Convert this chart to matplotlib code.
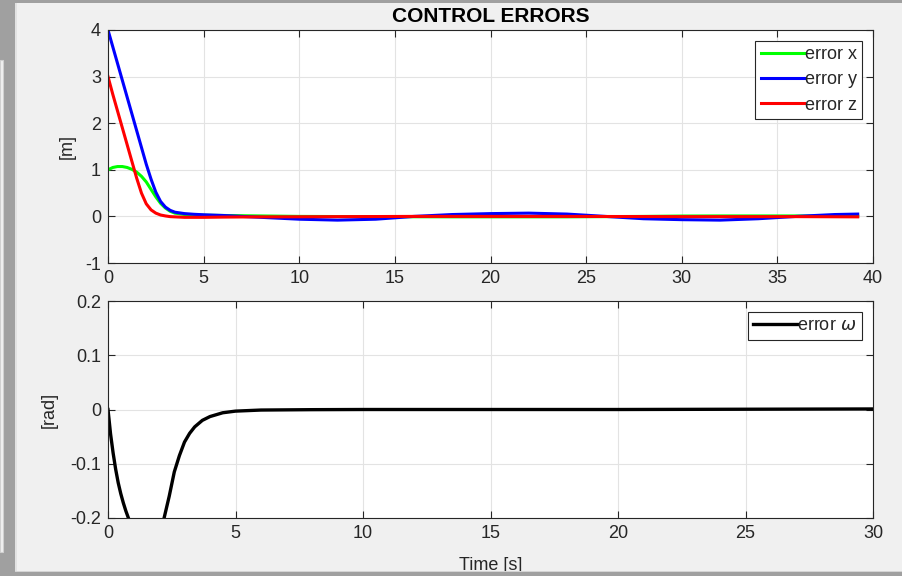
import numpy as np
import matplotlib
matplotlib.use("Agg")
import matplotlib.pyplot as plt
from matplotlib.patches import Rectangle

plt.rcParams["font.family"] = ["Liberation Sans", "DejaVu Sans"]
plt.rcParams["mathtext.fontset"] = "dejavusans"
plt.rcParams["axes.unicode_minus"] = False

# time samples for the position errors
t_pos = [0, 0.25, 0.5, 0.75, 1.0, 1.25, 1.5, 1.75, 2.0, 2.25, 2.5, 2.75,
         3.0, 3.25, 3.5, 4, 4.5, 5, 6, 7, 8, 10, 12, 14, 16, 18, 20, 22,
         24, 26, 28, 30, 32, 34, 36, 38, 39.2]

err_x = [1.0, 1.05, 1.07, 1.07, 1.05, 1.01, 0.95, 0.86, 0.74, 0.58, 0.42, 0.28,
         0.18, 0.11, 0.07, 0.04, 0.03, 0.025, 0.02, 0.015, 0.01, 0.0, -0.003, -0.005,
         -0.008, -0.01, -0.01, -0.01, -0.01, -0.005, 0.0, 0.008, 0.01, 0.01, 0.01, 0.005, 0.0]

err_y = [4.0, 3.64, 3.28, 2.92, 2.56, 2.2, 1.84, 1.48, 1.12, 0.8, 0.52, 0.32,
         0.2, 0.13, 0.09, 0.06, 0.045, 0.035, 0.02, 0.0, -0.02, -0.06, -0.08, -0.06,
         0.0, 0.04, 0.06, 0.07, 0.05, 0.0, -0.05, -0.07, -0.08, -0.05, 0.0, 0.04, 0.05]

err_z = [3.0, 2.62, 2.26, 1.9, 1.54, 1.18, 0.82, 0.5, 0.27, 0.14, 0.07, 0.03,
         0.01, -0.005, -0.01, -0.02, -0.02, -0.02, -0.015, -0.012, -0.01, -0.008, -0.005, -0.003,
         0.0, 0.0, 0.0, 0.0, 0.0, -0.002, -0.003, -0.005, -0.005, -0.005, -0.005, -0.008, -0.01]

# orientation error (bottom panel)
t_ang = [0, 0.1, 0.2, 0.3, 0.4, 0.5, 0.6, 0.7, 0.8, 0.9, 1.2, 1.6, 2.0,
         2.2, 2.4, 2.6, 2.8, 3.0, 3.2, 3.4, 3.7, 4.0, 4.5, 5, 6, 8, 10,
         15, 20, 25, 30]
err_w = [0, -0.045, -0.08, -0.11, -0.135, -0.155, -0.172, -0.187, -0.2, -0.212, -0.235, -0.25, -0.228,
         -0.2, -0.16, -0.115, -0.085, -0.06, -0.044, -0.032, -0.02, -0.013, -0.006, -0.003, -0.001, -0.0003, 0.0,
         0.0, 0.0, 0.0005, 0.001]

DARK = "#262626"
BG = "#f0f0f0"


def style_axes(ax):
    ax.set_facecolor("white")
    ax.grid(True, color="#e3e3e3", linewidth=0.8)
    ax.set_axisbelow(True)
    ax.tick_params(direction="in", top=True, right=True, length=5,
                   width=0.8, colors=DARK, labelsize=13, pad=5)
    for s in ax.spines.values():
        s.set_color(DARK)
        s.set_linewidth(0.8)


def add_legend(ax, spacing):
    leg = ax.legend(loc="upper right", fontsize=13, handlelength=2.4,
                    handletextpad=0.05, borderpad=0.3, labelspacing=spacing,
                    borderaxespad=0.6, fancybox=False, framealpha=1,
                    edgecolor=DARK)
    leg.get_frame().set_linewidth(0.8)
    for txt in leg.get_texts():
        txt.set_color(DARK)


fig = plt.figure(figsize=(9.02, 5.76), dpi=100, facecolor=BG)

ax1 = fig.add_axes([108 / 902, 1 - 263 / 576, 765 / 902, 233 / 576])
ax1.plot(t_pos, err_x, color="#00ff00", linewidth=2.2, label="error x")
ax1.plot(t_pos, err_y, color="#0000ff", linewidth=2.2, label="error y")
ax1.plot(t_pos, err_z, color="#ff0000", linewidth=2.2, label="error z")
ax1.set_xlim(0, 40)
ax1.set_ylim(-1, 4)
ax1.set_xticks(range(0, 41, 5))
ax1.set_yticks(range(-1, 5))
ax1.set_ylabel("[m]", fontsize=13, color=DARK, labelpad=7)
ax1.set_title("CONTROL ERRORS", fontsize=15, fontweight="bold", pad=6)
style_axes(ax1)
add_legend(ax1, 0.45)

ax2 = fig.add_axes([108 / 902, 1 - 518 / 576, 765 / 902, 217 / 576])
ax2.plot(t_ang, err_w, color="black", linewidth=2.4, label=r"error $\omega$")
ax2.set_xlim(0, 30)
ax2.set_ylim(-0.2, 0.2)
ax2.set_xticks(range(0, 31, 5))
ax2.set_yticks([-0.2, -0.1, 0, 0.1, 0.2])
ax2.set_yticklabels(["-0.2", "-0.1", "0", "0.1", "0.2"])
ax2.set_ylabel("[rad]", fontsize=13, color=DARK, labelpad=9)
ax2.set_xlabel("Time [s]", fontsize=13, color=DARK, labelpad=11)
style_axes(ax2)
add_legend(ax2, 0.3)

# window frame pieces from the screenshot
fig.patches.append(Rectangle((0, 0), 15 / 902, 1, transform=fig.transFigure,
                             facecolor="#a0a0a0", edgecolor="none", zorder=5))
fig.patches.append(Rectangle((15 / 902, 0), 1.5 / 902, 1, transform=fig.transFigure,
                             facecolor="#e2e2e2", edgecolor="none", zorder=5))
fig.patches.append(Rectangle((0, 1 - 3 / 576), 1, 3 / 576, transform=fig.transFigure,
                             facecolor="#a0a0a0", edgecolor="none", zorder=5))
fig.patches.append(Rectangle((0, 1 - 552 / 576), 3 / 902, (552 - 60) / 576,
                             transform=fig.transFigure, facecolor=BG,
                             edgecolor="#d0d0d0", linewidth=0.8, zorder=6))
fig.patches.append(Rectangle((0, 0), 1, 4 / 576, transform=fig.transFigure,
                             facecolor="#a0a0a0", edgecolor="none", zorder=5))
fig.patches.append(Rectangle((15 / 902, 4 / 576), 1, 1.5 / 576, transform=fig.transFigure,
                             facecolor="#d4d4d4", edgecolor="none", zorder=5))

fig.savefig("out.png", dpi=100, facecolor=BG)
